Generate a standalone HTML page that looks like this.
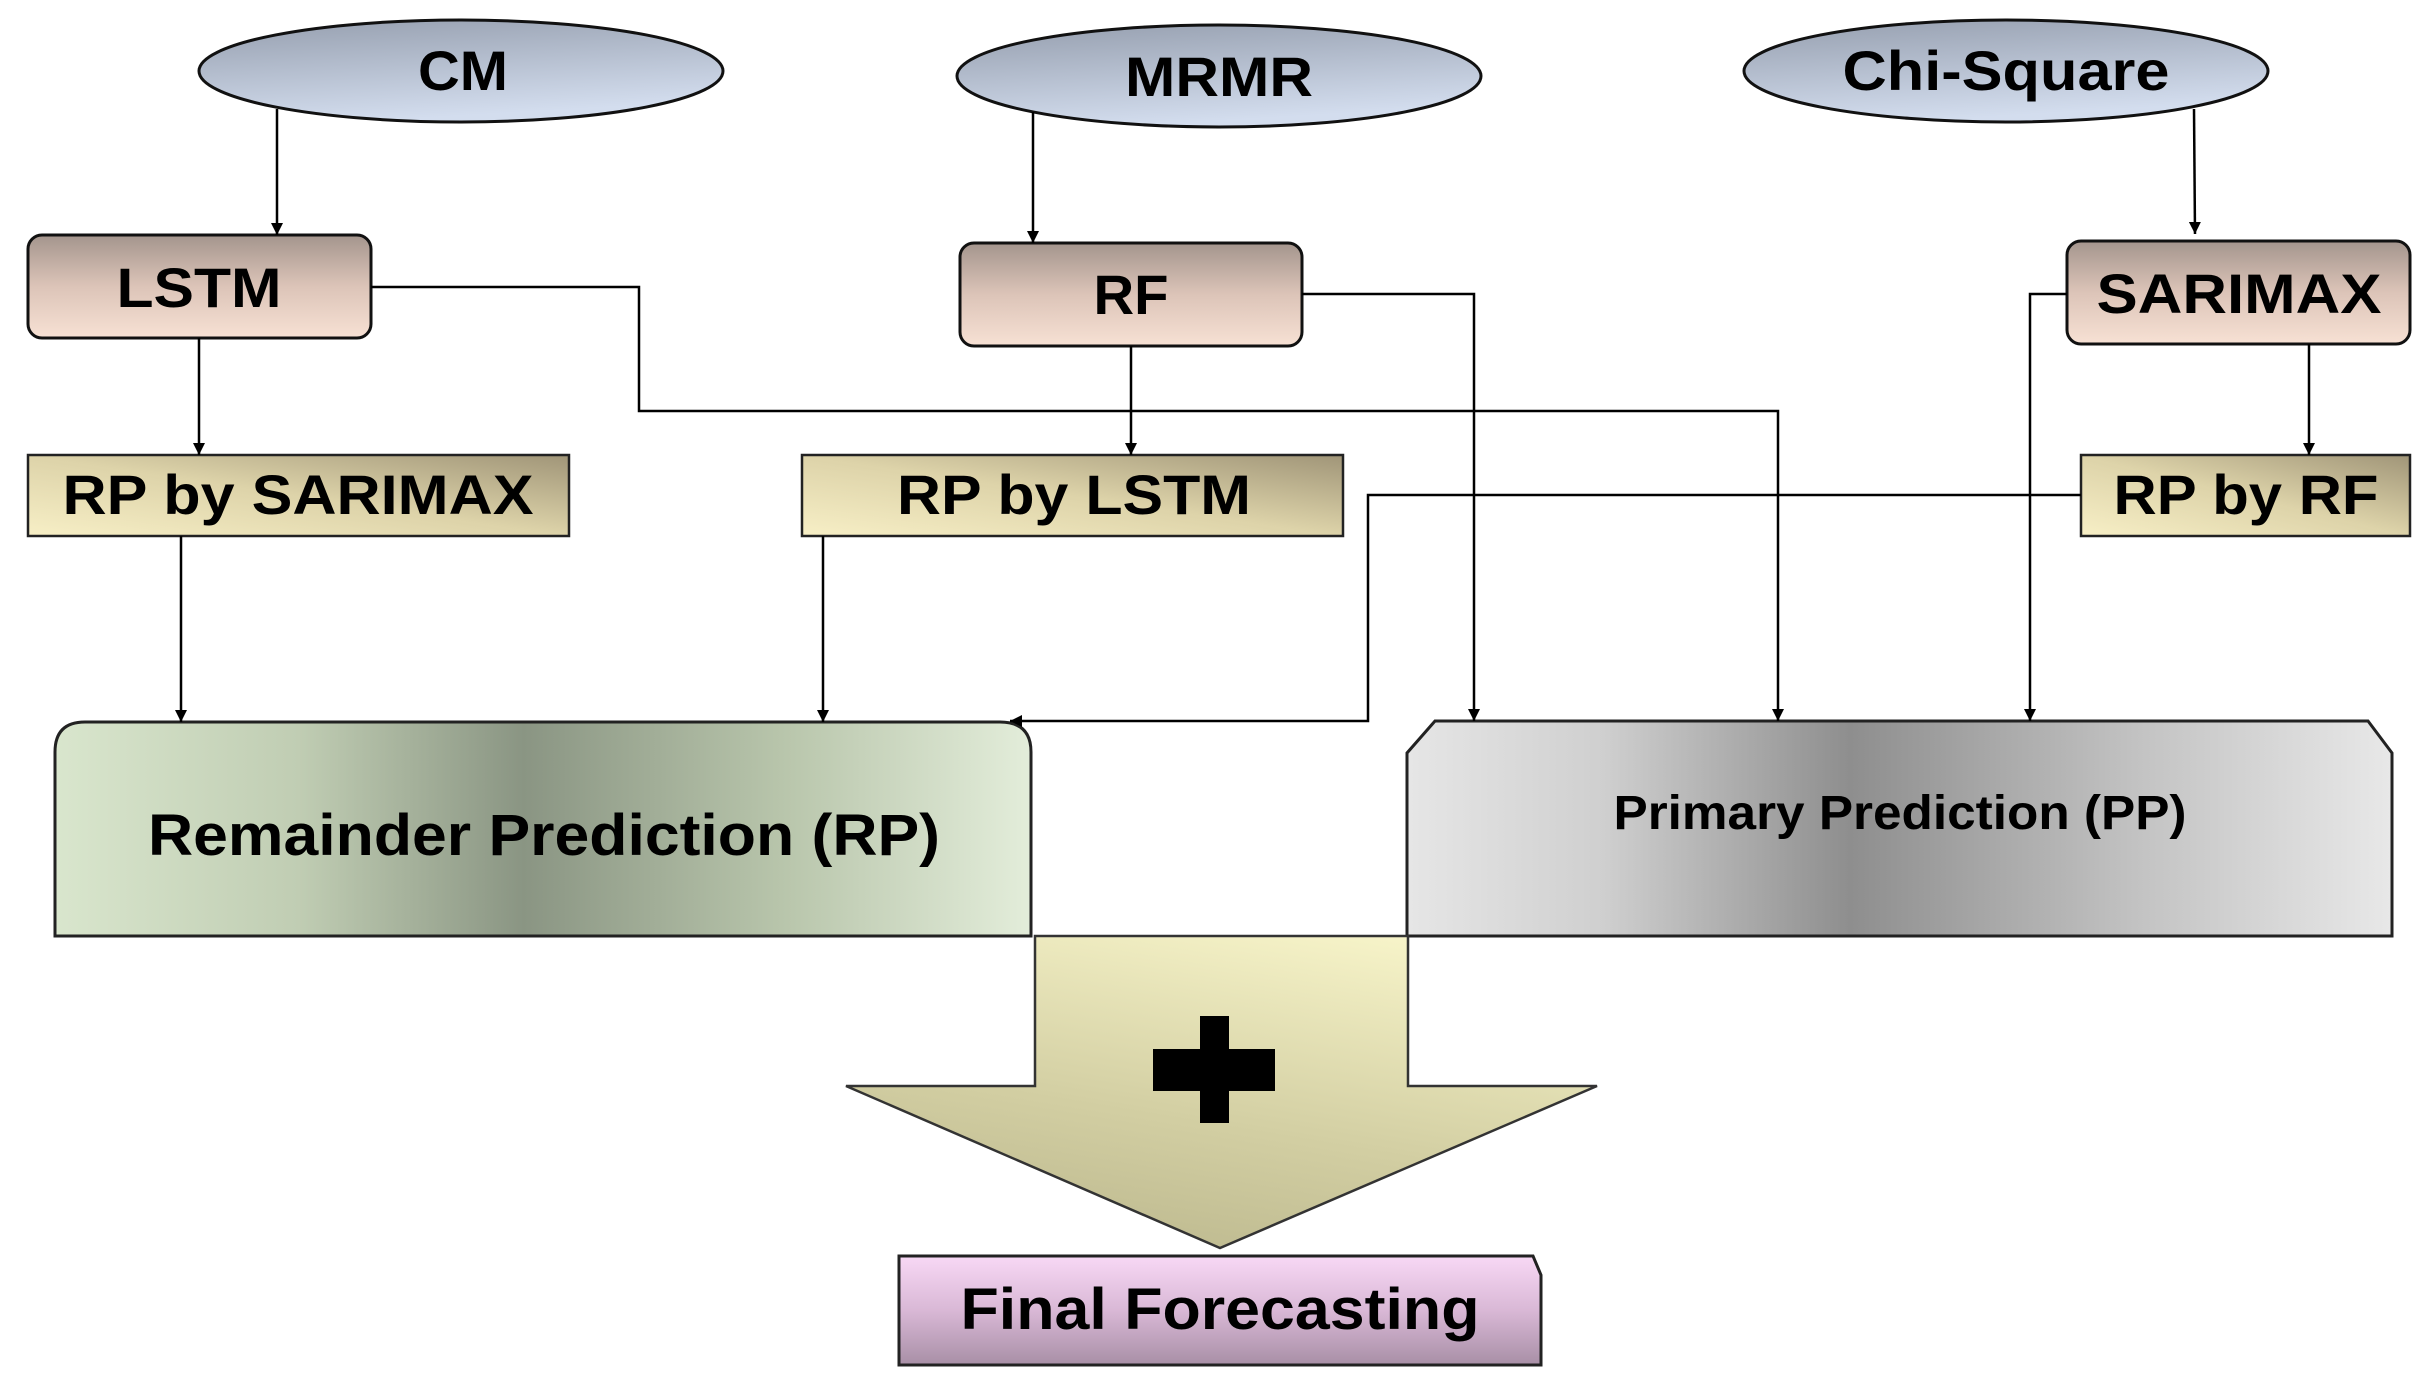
<!DOCTYPE html>
<html><head><meta charset="utf-8"><style>
html,body{margin:0;padding:0;background:#fff;width:2431px;height:1376px;overflow:hidden}
svg{display:block}
text{font-family:"Liberation Sans",Arial,sans-serif;font-weight:bold;fill:#000}
</style></head><body>
<svg width="2431" height="1376" viewBox="0 0 2431 1376" xmlns="http://www.w3.org/2000/svg">
<defs>
<linearGradient id="ell" x1="0" y1="0" x2="0.3" y2="1"><stop offset="0" stop-color="#959eae"/><stop offset="1" stop-color="#d3ddee"/></linearGradient>
<linearGradient id="box" x1="0" y1="0" x2="0" y2="1"><stop offset="0" stop-color="#a4958d"/><stop offset="0.5" stop-color="#dcc4b8"/><stop offset="1" stop-color="#f7e1d4"/></linearGradient>
<linearGradient id="rp" x1="0" y1="1" x2="1" y2="0"><stop offset="0" stop-color="#f7efc6"/><stop offset="0.5" stop-color="#ddd3a9"/><stop offset="1" stop-color="#a09578"/></linearGradient>
<linearGradient id="big1" x1="0" y1="0" x2="1" y2="0"><stop offset="0" stop-color="#d9e6cd"/><stop offset="0.25" stop-color="#c0cdb3"/><stop offset="0.48" stop-color="#8a9583"/><stop offset="0.75" stop-color="#b9c6ac"/><stop offset="1" stop-color="#e3edda"/></linearGradient>
<linearGradient id="big2" x1="0" y1="0" x2="1" y2="0"><stop offset="0" stop-color="#e6e6e6"/><stop offset="0.2" stop-color="#cfcfcf"/><stop offset="0.45" stop-color="#8e8e8e"/><stop offset="0.75" stop-color="#c4c4c4"/><stop offset="1" stop-color="#e8e8e8"/></linearGradient>
<linearGradient id="arr" x1="0.7" y1="0" x2="0.3" y2="1"><stop offset="0" stop-color="#f6f3c8"/><stop offset="0.6" stop-color="#d2cea2"/><stop offset="1" stop-color="#bdb98f"/></linearGradient>
<linearGradient id="fin" x1="0" y1="0" x2="0" y2="1"><stop offset="0" stop-color="#f8d8f5"/><stop offset="0.5" stop-color="#d9b8d6"/><stop offset="1" stop-color="#a88fa6"/></linearGradient>
<marker id="ah" viewBox="0 0 10 10" refX="10" refY="5" markerWidth="12" markerHeight="14" markerUnits="userSpaceOnUse" orient="auto"><path d="M0,0 L10,5 L0,10 z" fill="#000"/></marker>
</defs>

<!-- ellipses -->
<ellipse cx="461" cy="71" rx="262" ry="51" fill="url(#ell)" stroke="#111" stroke-width="3"/>
<ellipse cx="1219" cy="76" rx="262" ry="51" fill="url(#ell)" stroke="#111" stroke-width="3"/>
<ellipse cx="2006" cy="71" rx="262" ry="51" fill="url(#ell)" stroke="#111" stroke-width="3"/>
<text x="463" y="90" font-size="56" text-anchor="middle" textLength="90" lengthAdjust="spacingAndGlyphs">CM</text>
<text x="1219" y="96" font-size="56" text-anchor="middle" textLength="188" lengthAdjust="spacingAndGlyphs">MRMR</text>
<text x="2006" y="90" font-size="56" text-anchor="middle" textLength="327" lengthAdjust="spacingAndGlyphs">Chi-Square</text>

<!-- model boxes -->
<rect x="28" y="235" width="343" height="103" rx="14" fill="url(#box)" stroke="#111" stroke-width="3"/>
<rect x="960" y="243" width="342" height="103" rx="14" fill="url(#box)" stroke="#111" stroke-width="3"/>
<rect x="2067" y="241" width="343" height="103" rx="14" fill="url(#box)" stroke="#111" stroke-width="3"/>
<text x="199" y="307" font-size="56" text-anchor="middle" textLength="165" lengthAdjust="spacingAndGlyphs">LSTM</text>
<text x="1131" y="314" font-size="56" text-anchor="middle" textLength="75" lengthAdjust="spacingAndGlyphs">RF</text>
<text x="2239" y="313" font-size="56" text-anchor="middle" textLength="285" lengthAdjust="spacingAndGlyphs">SARIMAX</text>

<!-- RP boxes -->
<rect x="28" y="455" width="541" height="81" fill="url(#rp)" stroke="#222" stroke-width="2.5"/>
<rect x="802" y="455" width="541" height="81" fill="url(#rp)" stroke="#222" stroke-width="2.5"/>
<rect x="2081" y="455" width="329" height="81" fill="url(#rp)" stroke="#222" stroke-width="2.5"/>
<text x="298" y="514" font-size="56" text-anchor="middle" textLength="471" lengthAdjust="spacingAndGlyphs">RP by SARIMAX</text>
<text x="1074" y="514" font-size="56" text-anchor="middle" textLength="354" lengthAdjust="spacingAndGlyphs">RP by LSTM</text>
<text x="2246" y="514" font-size="56" text-anchor="middle" textLength="265" lengthAdjust="spacingAndGlyphs">RP by RF</text>

<!-- big boxes -->
<path d="M55,936 L55,752 Q55,722 85,722 L1000,722 Q1031,722 1031,752 L1031,936 Z" fill="url(#big1)" stroke="#222" stroke-width="3"/>
<path d="M1407,936 L1407,753 L1435,721 L2368,721 L2392,753 L2392,936 Z" fill="url(#big2)" stroke="#222" stroke-width="3"/>
<text x="544" y="855" font-size="58" text-anchor="middle" textLength="792" lengthAdjust="spacingAndGlyphs">Remainder Prediction (RP)</text>
<text x="1900" y="829" font-size="48" text-anchor="middle" textLength="573" lengthAdjust="spacingAndGlyphs">Primary Prediction (PP)</text>

<!-- big arrow -->
<path d="M1035,936 L1408,936 L1408,1086 L1597,1086 L1220,1248 L846,1086 L1035,1086 Z" fill="url(#arr)" stroke="#333" stroke-width="2.5"/>
<rect x="1200" y="1016" width="29" height="107" fill="#000"/>
<rect x="1153" y="1049" width="122" height="42" fill="#000"/>

<!-- final -->
<path d="M899,1365 L899,1256 L1533,1256 L1541,1275 L1541,1365 Z" fill="url(#fin)" stroke="#222" stroke-width="3"/>
<text x="1220" y="1329" font-size="58" text-anchor="middle" textLength="519" lengthAdjust="spacingAndGlyphs">Final Forecasting</text>

<!-- connectors -->
<g fill="none" stroke="#000" stroke-width="2.5" marker-end="url(#ah)">
<path d="M277,109 L277,235"/>
<path d="M1033,112 L1033,243"/>
<path d="M2194,109 L2195,234"/>
<path d="M199,338 L199,455"/>
<path d="M1131,346 L1131,455"/>
<path d="M2309,344 L2309,455"/>
<path d="M371,287 L639,287 L639,411 L1778,411 L1778,721"/>
<path d="M1302,294 L1474,294 L1474,721"/>
<path d="M2067,294 L2030,294 L2030,721"/>
<path d="M2081,495 L1368,495 L1368,721 L1010,721"/>
<path d="M181,536 L181,722"/>
<path d="M823,536 L823,722"/>
</g>
</svg>
</body></html>
